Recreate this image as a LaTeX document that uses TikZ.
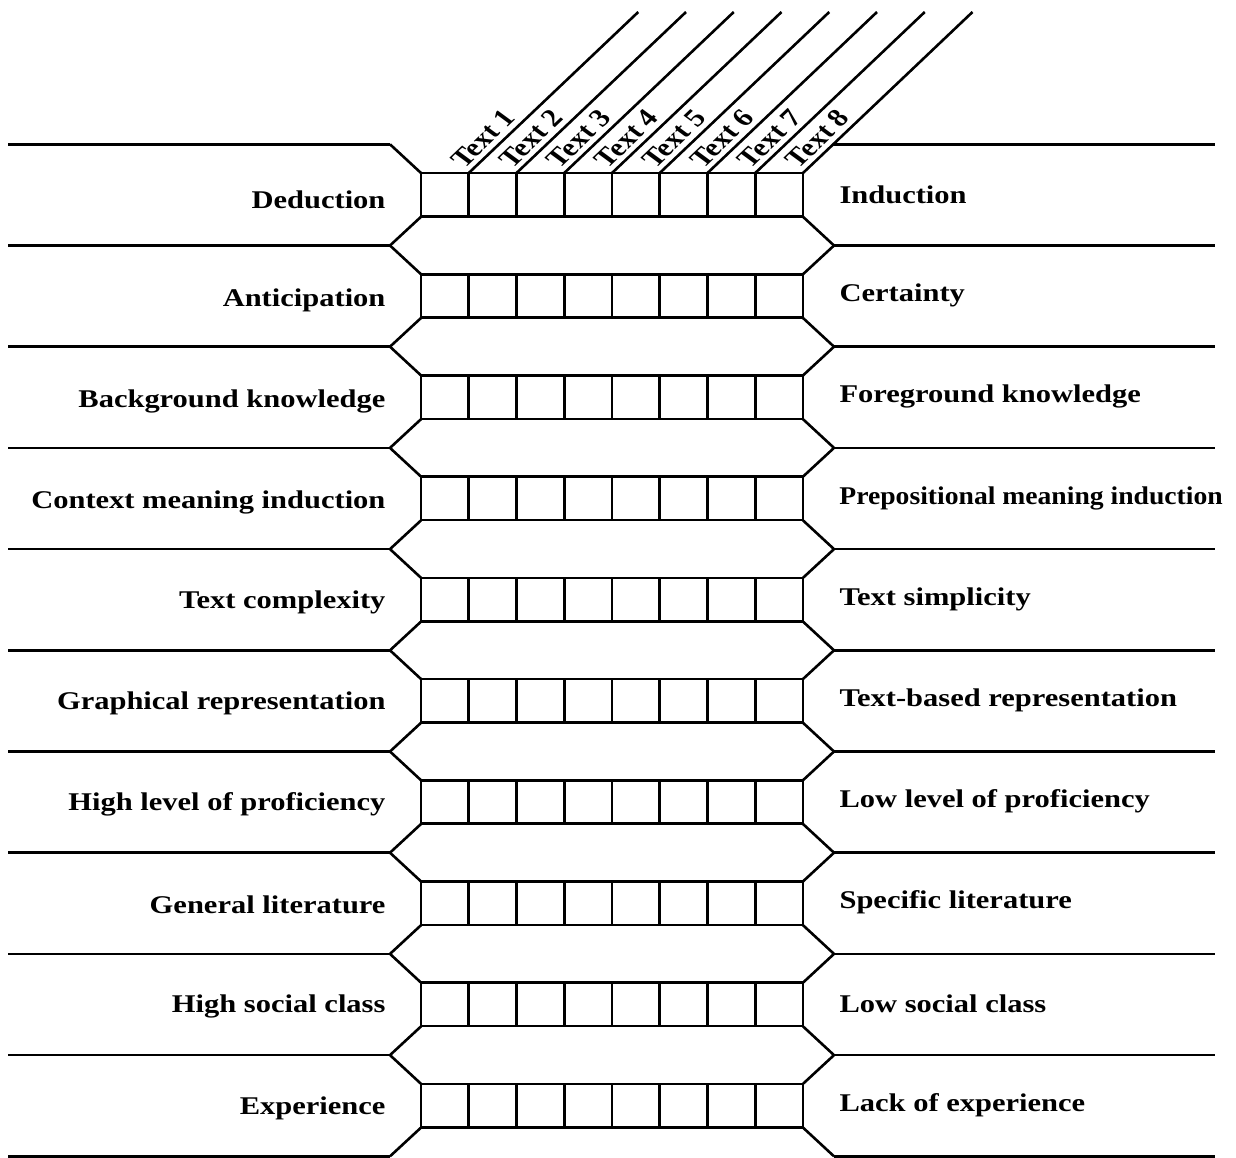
\documentclass[tikz,border=0pt]{standalone}
\usepackage{fontspec}
\setmainfont{Liberation Serif}
\usetikzlibrary{calc}
\begin{document}
\begin{tikzpicture}[x=1pt,y=-1pt,line width=2.6pt,
  lab/.style={font=\bfseries\fontsize{25.5}{30}\selectfont, inner sep=0pt, xscale=1.196},
  tlab/.style={lab, rotate=48.65, anchor=base west}]
\useasboundingbox (0,0) rectangle (1236,1157);
% grid rows
\foreach \i in {0,...,9}{
  \pgfmathsetmacro{\t}{173+101.2*\i}
  \pgfmathsetmacro{\b}{216.5+101.2*\i}
  \draw (421,\t) rectangle (803,\b);
  \foreach \j in {1,...,7}{
    \draw ({421+47.75*\j},\t) -- ({421+47.75*\j},\b);
  }
}
% connectors between rows
\foreach \k in {0,...,10}{
  \pgfmathsetmacro{\v}{144.3+101.2*\k}
  \draw (8,\v) -- (390,\v);
  \ifnum\k>0
    \draw (390,\v) -- (421,{\v-28.7});
    \draw (803,{\v-28.7}) -- (834,\v);
  \fi
  \ifnum\k<10
    \draw (390,\v) -- (421,{\v+28.7});
    \ifnum\k>0
      \draw (803,{\v+28.7}) -- (834,\v);
    \fi
  \fi
  \ifnum\k=0
    \draw (833.2,\v) -- (1215,\v);
  \else
    \draw (834,\v) -- (1215,\v);
  \fi
}
% diagonal header lines and labels
\foreach \k in {1,...,8}{
  \coordinate (P\k) at ({421+47.75*\k},173);
  \draw (P\k) -- ++(169.5,-161);
  \node[tlab] (T\k) at ($(P\k)+(-5.5,-3)$) {Text \k};
}
% left labels
\node[lab, anchor=base east] (L0) at (387,208.5) {Deduction};
\node[lab, anchor=base east] (L1) at (387,306.5) {Anticipation};
\node[lab, anchor=base east] (L2) at (387,407.5) {Background knowledge};
\node[lab, anchor=base east] (L3) at (387,508.5) {Context meaning induction};
\node[lab, anchor=base east] (L4) at (387,608.5) {Text complexity};
\node[lab, anchor=base east] (L5) at (387,709.5) {Graphical representation};
\node[lab, anchor=base east] (L6) at (387,810.5) {High level of proficiency};
\node[lab, anchor=base east] (L7) at (387,913.5) {General literature};
\node[lab, anchor=base east] (L8) at (387,1012.5) {High social class};
\node[lab, anchor=base east] (L9) at (387,1114.5) {Experience};
% right labels
\node[lab, anchor=base west] (R0) at (838,203.5) {Induction};
\node[lab, anchor=base west] (R1) at (838,301.5) {Certainty};
\node[lab, anchor=base west] (R2) at (838,402.5) {Foreground knowledge};
\node[lab, anchor=base west, xscale=0.906] (R3) at (838,504.5) {Prepositional meaning induction};
\node[lab, anchor=base west] (R4) at (838,605.5) {Text simplicity};
\node[lab, anchor=base west] (R5) at (838,706.5) {Text-based representation};
\node[lab, anchor=base west] (R6) at (838,807.5) {Low level of proficiency};
\node[lab, anchor=base west] (R7) at (838,908.5) {Specific literature};
\node[lab, anchor=base west] (R8) at (838,1012.5) {Low social class};
\node[lab, anchor=base west] (R9) at (838,1111.5) {Lack of experience};
\end{tikzpicture}
\end{document}
